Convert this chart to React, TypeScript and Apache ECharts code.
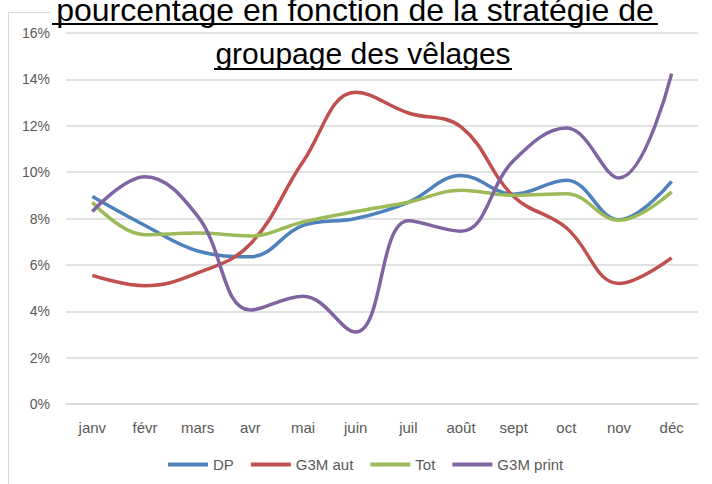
import React, { useEffect, useRef } from "react";
import * as echarts from "echarts";

const months = ["janv", "févr", "mars", "avr", "mai", "juin", "juil", "août", "sept", "oct", "nov", "déc"];
const dp = [8.95, 7.7, 6.6, 6.35, 7.7, 8.0, 8.7, 9.85, 9.05, 9.65, 7.95, 9.6];
const g3mAut = [5.55, 5.1, 5.65, 6.9, 10.45, 13.45, 12.55, 11.95, 8.95, 7.6, 5.2, 6.3];
const tot = [8.7, 7.3, 7.37, 7.25, 7.85, 8.3, 8.7, 9.22, 9.0, 9.07, 7.92, 9.15];
const g3mPrint = [8.3, 9.8, 8.1, 4.05, 4.65, 3.1, 7.9, 7.45, 10.5, 11.9, 9.75, 14.25];
const seriesNames = ["DP", "G3M aut", "Tot", "G3M print"];
const colors = ["#4F81BD", "#C0504D", "#9BBB59", "#8064A2"];
const titleLine1 = "pourcentage en fonction de la stratégie de";
const titleLine2 = "groupage des vêlages";

const FONT = "'Liberation Sans', Arial, sans-serif";

export default function App() {
  const ref = useRef<HTMLDivElement>(null);
  useEffect(() => {
    if (!ref.current) return;
    const chart = echarts.init(ref.current, undefined, { renderer: "svg" });
    const data = [dp, g3mAut, tot, g3mPrint];
    chart.setOption({
      animation: false,
      backgroundColor: "#ffffff",
      textStyle: { fontFamily: FONT },
      grid: { left: 66, right: 14, top: 33, bottom: 80 },
      legend: {
        data: seriesNames,
        left: 168,
        top: 457,
        icon: "rect",
        itemWidth: 40,
        itemHeight: 4,
        itemGap: 17,
        padding: 0,
        textStyle: { fontSize: 15, color: "#595959", fontFamily: FONT },
      },
      xAxis: {
        type: "category",
        data: months,
        boundaryGap: true,
        axisLine: { show: true, lineStyle: { color: "#D9D9D9", width: 1.5 } },
        axisTick: { show: false },
        axisLabel: { color: "#595959", fontSize: 15, margin: 16, fontFamily: FONT },
      },
      yAxis: {
        type: "value",
        min: 0,
        max: 16,
        interval: 2,
        axisLine: { show: false },
        axisTick: { show: false },
        splitLine: { lineStyle: { color: "#D9D9D9", width: 1.5 } },
        axisLabel: { color: "#595959", fontSize: 14, margin: 16, formatter: "{value}%", fontFamily: FONT },
      },
      series: seriesNames.map((name, i) => ({
        name,
        type: "line",
        data: data[i],
        smooth: 0.4,
        showSymbol: false,
        symbol: "none",
        lineStyle: { color: colors[i], width: 3.5 },
        itemStyle: { color: colors[i] },
        z: 2 + (i === 3 ? 1 : 0),
      })),
      graphic: [
        { type: "line", shape: { x1: 8.5, y1: 12, x2: 8.5, y2: 484 }, style: { stroke: "#D9D9D9", lineWidth: 1 } },
        { type: "line", shape: { x1: 8, y1: 12.5, x2: 50, y2: 12.5 }, style: { stroke: "#D9D9D9", lineWidth: 1 } },
        {
          type: "text",
          x: 355,
          y: 9.5,
          style: { text: titleLine1, fontSize: 32, fontFamily: FONT, fill: "#000000", align: "center", verticalAlign: "middle" },
          z: 10,
        },
        { type: "line", shape: { x1: 52, y1: 24, x2: 658, y2: 24 }, style: { stroke: "#000000", lineWidth: 2 }, z: 10 },
        {
          type: "text",
          x: 363,
          y: 53.5,
          style: { text: titleLine2, fontSize: 30, fontFamily: FONT, fill: "#000000", align: "center", verticalAlign: "middle" },
          z: 10,
        },
        { type: "line", shape: { x1: 214, y1: 69, x2: 512, y2: 69 }, style: { stroke: "#000000", lineWidth: 2 }, z: 10 },
      ],
    });
    return () => chart.dispose();
  }, []);
  return <div ref={ref} style={{ width: 712, height: 484, position: "absolute", left: 0, top: 0 }} />;
}
